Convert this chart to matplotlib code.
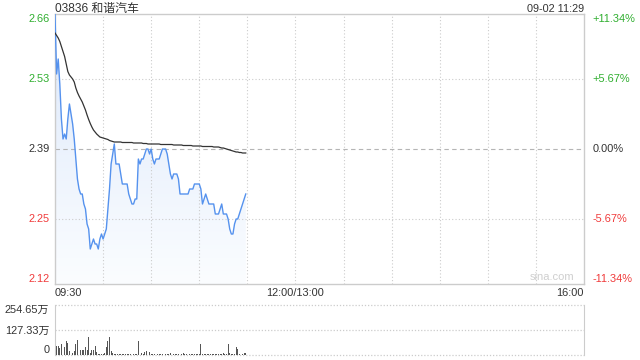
import numpy as np
import matplotlib
matplotlib.use("Agg")
import matplotlib.pyplot as plt
from matplotlib.patches import Polygon
from matplotlib.colors import LinearSegmentedColormap

plt.rcParams['font.family'] = ['Liberation Sans', 'Noto Sans CJK SC', 'DejaVu Sans']

title = "03836 和谐汽车"
stamp = "09-02 11:29"
prev_close = 2.39

price = [2.66, 2.54, 2.57, 2.52, 2.45, 2.41, 2.42, 2.41, 2.45, 2.48,
         2.46, 2.44, 2.41, 2.37, 2.33, 2.31, 2.30, 2.30, 2.28, 2.27,
         2.24, 2.23, 2.19, 2.20, 2.21, 2.20, 2.20, 2.19, 2.21, 2.22,
         2.21, 2.22, 2.23, 2.27, 2.31, 2.36, 2.38, 2.40, 2.36, 2.36,
         2.36, 2.34, 2.32, 2.32, 2.32, 2.32, 2.30, 2.29, 2.28, 2.28,
         2.29, 2.29, 2.37, 2.36, 2.37, 2.37, 2.38, 2.39, 2.39, 2.38,
         2.39, 2.37, 2.36, 2.37, 2.37, 2.37, 2.38, 2.39, 2.39, 2.39,
         2.38, 2.36, 2.34, 2.33, 2.34, 2.34, 2.34, 2.33, 2.30, 2.30,
         2.30, 2.30, 2.30, 2.30, 2.31, 2.31, 2.31, 2.32, 2.32, 2.32,
         2.32, 2.31, 2.28, 2.29, 2.30, 2.29, 2.28, 2.28, 2.28, 2.28,
         2.26, 2.26, 2.26, 2.27, 2.28, 2.26, 2.26, 2.26, 2.25, 2.23,
         2.22, 2.22, 2.24, 2.25, 2.25, 2.26, 2.27, 2.28, 2.29, 2.30]

avg = [2.622, 2.617, 2.612, 2.605, 2.595, 2.585, 2.575, 2.560, 2.545, 2.538,
       2.534, 2.530, 2.524, 2.512, 2.503, 2.496, 2.490, 2.484, 2.476, 2.468,
       2.458, 2.449, 2.441, 2.434, 2.428, 2.424, 2.420, 2.417, 2.414, 2.413,
       2.412, 2.411, 2.410, 2.409, 2.407, 2.406, 2.405, 2.404, 2.404, 2.404,
       2.404, 2.404, 2.403, 2.403, 2.403, 2.403, 2.403, 2.403, 2.403, 2.402,
       2.402, 2.402, 2.402, 2.402, 2.402, 2.401, 2.401, 2.401, 2.400, 2.400,
       2.400, 2.400, 2.400, 2.400, 2.400, 2.400, 2.399, 2.399, 2.399, 2.399,
       2.399, 2.399, 2.399, 2.399, 2.398, 2.398, 2.398, 2.398, 2.398, 2.398,
       2.397, 2.397, 2.397, 2.397, 2.397, 2.397, 2.396, 2.396, 2.396, 2.396,
       2.396, 2.396, 2.395, 2.395, 2.395, 2.395, 2.395, 2.395, 2.395, 2.394,
       2.394, 2.394, 2.394, 2.393, 2.392, 2.392, 2.391, 2.390, 2.389, 2.388,
       2.387, 2.386, 2.385, 2.384, 2.384, 2.383, 2.383, 2.382, 2.382, 2.382]

volume = [254.65, 44, 47, 34, 56, 14, 39, 73, 61, 22,
          37, 12, 22, 56, 78, 27, 27, 27, 27, 42,
          27, 90, 9, 27, 27, 47, 14, 5, 3, 3,
          5, 9, 39, 73, 90, 22, 9, 5, 3, 3,
          4, 3, 5, 3, 4, 3, 6, 3, 5, 4,
          3, 5, 70, 34, 8, 5, 17, 20, 17, 17,
          5, 4, 6, 4, 5, 4, 6, 4, 5, 4,
          5, 6, 8, 5, 4, 5, 6, 5, 4, 5,
          8, 5, 4, 5, 6, 5, 4, 5, 4, 5,
          6, 55, 5, 4, 5, 6, 4, 5, 4, 5,
          6, 4, 5, 4, 5, 12, 6, 5, 55, 8,
          5, 4, 6, 40, 32, 5, 4, 6, 12, 8]

y_ticks = [2.66, 2.53, 2.39, 2.25, 2.12]
pct_labels = ["+11.34%", "+5.67%", "0.00%", "-5.67%", "-11.34%"]
x_tick_pos = [0, 150, 330]
x_tick_labels = ["09:30", "12:00/13:00", "16:00"]
vol_ticks = [254.65, 127.33, 0]
vol_labels = ["254.65万", "127.33万", "0"]
total_minutes = 330

GREEN = "#2fae2f"
RED = "#f03a3a"
DARK = "#333333"
GRID = "#cccccc"
FS = 7.9

fig = plt.figure(figsize=(6.4, 3.6), dpi=100)
ax = fig.add_axes([55/640, 1-284/360, 529/640, 270/360])
axv = fig.add_axes([55/640, 1-355/360, 529/640, 50/360])

t = np.arange(len(price))
ax.set_xlim(0, total_minutes)
ax.set_ylim(y_ticks[-1], y_ticks[0])

# grid (drawn above the fill, below the lines)
for yv in y_ticks[1:-1]:
    if abs(yv - prev_close) < 1e-9:
        ax.axhline(yv, color="#b5b5b5", lw=0.8, ls=(0, (4, 3)), zorder=2.5)
    else:
        ax.axhline(yv, color=GRID, lw=0.8, ls=(0, (1, 2)), zorder=2.5)
for xv in range(30, total_minutes, 30):
    ax.axvline(xv, color=GRID, lw=0.8, ls=(0, (1, 2)), zorder=2.5)

# gradient fill under price
ymin = y_ticks[-1]
verts = [(t[0], ymin)] + list(zip(t, price)) + [(t[-1], ymin)]
poly = Polygon(verts, closed=True, facecolor='none', edgecolor='none')
ax.add_patch(poly)
grad = np.linspace(0, 1, 256).reshape(-1, 1)
cmap = LinearSegmentedColormap.from_list("g", ["#dce8fb", "#fbfdff"])
im = ax.imshow(grad, cmap=cmap, aspect='auto',
               extent=[t[0], t[-1], ymin, max(price)], origin='upper', zorder=2)
im.set_clip_path(poly)

ax.plot(t, price, color="#5592ee", lw=1.0, zorder=3)
ax.plot(t, avg, color=DARK, lw=0.9, zorder=4)

for s in ax.spines.values():
    s.set_color(GRID)
    s.set_linewidth(1.0)

lab_colors = [GREEN, GREEN, DARK, RED, RED]

ax.set_yticks(y_ticks)
ax.set_yticklabels([f"{v:.2f}" for v in y_ticks])
ax.tick_params(axis='y', length=0, pad=4, labelsize=FS)
for i, lab in enumerate(ax.get_yticklabels()):
    lab.set_color(lab_colors[i])
    if i == 0:
        lab.set_va('top')
    elif i == len(y_ticks) - 1:
        lab.set_va('bottom')
    else:
        lab.set_va('center')

ax2 = ax.twinx()
ax2.set_ylim(ax.get_ylim())
ax2.set_yticks(y_ticks)
ax2.set_yticklabels(pct_labels)
ax2.tick_params(axis='y', length=0, pad=6, labelsize=FS)
for s in ax2.spines.values():
    s.set_visible(False)
for i, lab in enumerate(ax2.get_yticklabels()):
    lab.set_color(lab_colors[i])
    if i == 0:
        lab.set_va('top')
    elif i == len(y_ticks) - 1:
        lab.set_va('bottom')
    else:
        lab.set_va('center')

ax.set_xticks(x_tick_pos)
ax.set_xticklabels(x_tick_labels)
ax.tick_params(axis='x', length=0, pad=3, labelsize=FS, colors=DARK)
xl = ax.get_xticklabels()
xl[0].set_ha('left')
xl[-1].set_ha('right')

ax.text(0, 1.0074, title, transform=ax.transAxes, ha='left', va='baseline',
        fontsize=8.6, color=DARK)
ax.text(1, 1.0074, stamp, transform=ax.transAxes, ha='right', va='baseline',
        fontsize=7.8, color=DARK)
ax.text(0.982, 0.008, "sina.com", transform=ax.transAxes, ha='right', va='bottom',
        fontsize=8, color="#cfcfcf", zorder=5)

# volume
axv.set_xlim(0, total_minutes)
axv.set_ylim(0, vol_ticks[0])
axv.bar(t, volume, width=0.55, color="#555555", zorder=3)
for yv in vol_ticks:
    axv.axhline(yv, color=GRID, lw=0.9, ls=(0, (1, 1.5)), zorder=1, clip_on=False)
for name, s in axv.spines.items():
    if name in ('top', 'bottom'):
        s.set_visible(False)
    else:
        s.set_color(GRID)
axv.set_xticks([])
axv.set_yticks(vol_ticks)
axv.set_yticklabels(vol_labels)
axv.tick_params(axis='y', length=0, pad=4, labelsize=FS, colors=DARK)
vl = axv.get_yticklabels()
vl[0].set_va('top')
vl[-1].set_va('bottom')

fig.savefig("out.png", dpi=100)
